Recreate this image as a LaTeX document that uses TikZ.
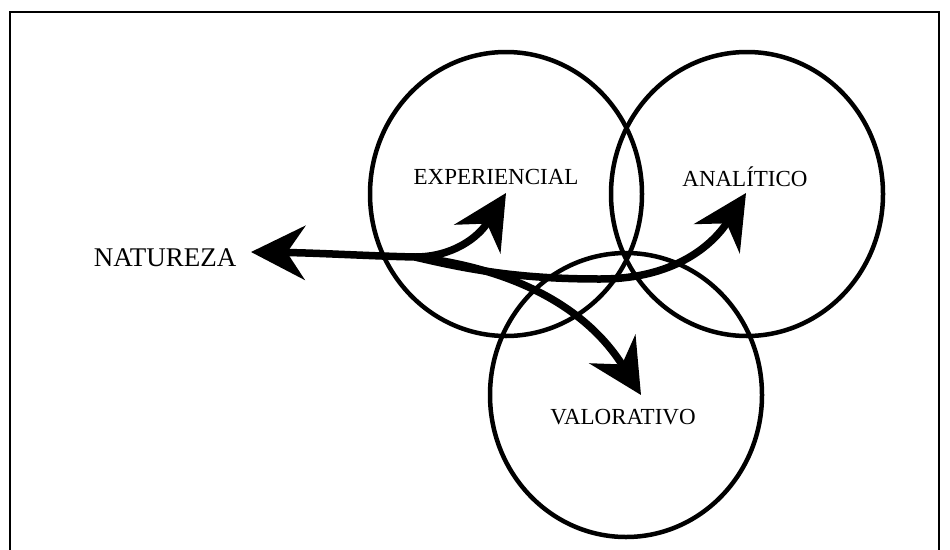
\documentclass[tikz,border=0pt]{standalone}
\usepackage{fontspec}
\setmainfont{Liberation Serif}
\usetikzlibrary{shapes.geometric,arrows.meta}
\tikzset{
  ring/.style={draw, ellipse, line width=4.5pt, minimum width=272pt, minimum height=284pt, inner sep=0pt},
  lbl/.style={font=\fontsize{23}{27}\selectfont, inner sep=0pt},
  bigarrow/.style={line width=7.5pt, -{Stealth[length=54pt,width=54pt,inset=18pt]}},
  frame/.style={line width=2pt}
}
\begin{document}
\begin{tikzpicture}[x=1pt,y=-1pt]
\useasboundingbox (0,0) rectangle (950,549);
\clip (0,0) rectangle (950,549);
\coordinate (f1) at (10,560);
\coordinate (f2) at (10,12);
\coordinate (f3) at (939,12);
\coordinate (f4) at (939,560);
\draw[frame] (f1) -- (f2) -- (f3) -- (f4);
\node[ring] (cE) at (506,194) {};
\node[ring] (cA) at (747,194) {};
\node[ring] (cV) at (626,395) {};
\node[lbl] (tE) at (496,177) {EXPERIENCIAL};
\node[lbl] (tA) at (745,177) {ANALÍTICO};
\node[lbl] (tV) at (623,417) {VALORATIVO};
\node[lbl, font=\fontsize{27}{31}\selectfont] (tN) at (165,258) {NATUREZA};
\coordinate (J) at (415,257);
\coordinate (pN) at (251,252);
\coordinate (pE) at (506,193);
\coordinate (pA) at (746,193);
\coordinate (pV) at (641,395);
\coordinate (m) at (600,279);
\draw[bigarrow] (J) .. controls (370,256) and (320,253) .. (pN);
\draw[bigarrow] (J) .. controls (452,257) and (478,238) .. (pE);
\draw[bigarrow] (J) .. controls (470,270) and (520,279) .. (m) .. controls (680,279) and (716,240) .. (pA);
\draw[bigarrow] (J) .. controls (510,268) and (585,305) .. (pV);
\end{tikzpicture}
\end{document}
